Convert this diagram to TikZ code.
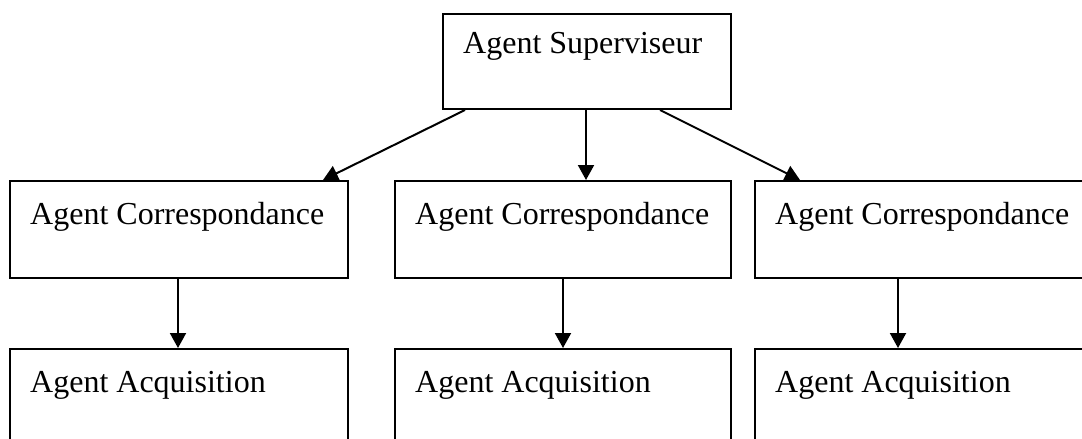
\documentclass[tikz,border=0pt]{standalone}
\usepackage{fontspec}
\setmainfont{Liberation Serif}
\usetikzlibrary{arrows.meta,calc}

\tikzset{
  agentbox/.style={draw, line width=2pt, rectangle, inner sep=0pt, anchor=north west},
  agentlabel/.style={anchor=base west, inner sep=0pt, font=\fontsize{32}{38}\selectfont},
  link/.style={line width=2pt, -{Triangle[width=16pt,length=15pt]}}
}

\begin{document}
\begin{tikzpicture}[x=1pt, y=-1pt]
  \useasboundingbox (0,0) rectangle (1082,439);
  \clip (0,0) rectangle (1082,439);

  % supervisor
  \node[agentbox, minimum width=288pt, minimum height=95pt] (sup) at (442,13) {};
  \node[agentlabel] (supT) at ($(sup.north west)+(21,40)$) {Agent Superviseur};

  % matching agents
  \node[agentbox, minimum width=338pt, minimum height=97pt] (cA) at (9,180) {};
  \node[agentbox, minimum width=336pt, minimum height=97pt] (cB) at (394,180) {};
  \node[agentbox, minimum width=360pt, minimum height=97pt] (cC) at (754,180) {};
  \node[agentlabel] (cAT) at ($(cA.north west)+(21,44)$) {Agent Correspondance};
  \node[agentlabel] (cBT) at ($(cB.north west)+(21,44)$) {Agent Correspondance};
  \node[agentlabel] (cCT) at ($(cC.north west)+(21,44)$) {Agent Correspondance};

  % acquisition agents
  \node[agentbox, minimum width=338pt, minimum height=140pt] (qA) at (9,348) {};
  \node[agentbox, minimum width=336pt, minimum height=140pt] (qB) at (394,348) {};
  \node[agentbox, minimum width=360pt, minimum height=140pt] (qC) at (754,348) {};
  \node[agentlabel] (qAT) at ($(qA.north west)+(21,44)$) {Agent Acquisition};
  \node[agentlabel] (qBT) at ($(qB.north west)+(21,44)$) {Agent Acquisition};
  \node[agentlabel] (qCT) at ($(qC.north west)+(21,44)$) {Agent Acquisition};

  % supervisor -> matching agents
  \coordinate (s1) at ($(sup.south west)+(23,0)$);
  \coordinate (s3) at ($(sup.south east)+(-72,0)$);
  \coordinate (s2) at ($(sup.south west)+(144,0)$);
  \coordinate (t1) at ($(cA.north west)+(314,0)$);
  \coordinate (t3) at ($(cC.north west)+(46,0)$);
  \draw[link] (s1) -- (t1);
  \draw[link] (s2) -- (s2 |- cB.north);
  \draw[link] (s3) -- (t3);

  % matching -> acquisition
  \coordinate (m1) at ($(cA.south west)+(169,0)$);
  \coordinate (m2) at ($(cB.south west)+(169,0)$);
  \coordinate (m3) at ($(cC.south west)+(144,0)$);
  \draw[link] (m1) -- (m1 |- qA.north);
  \draw[link] (m2) -- (m2 |- qB.north);
  \draw[link] (m3) -- (m3 |- qC.north);
\end{tikzpicture}
\end{document}
